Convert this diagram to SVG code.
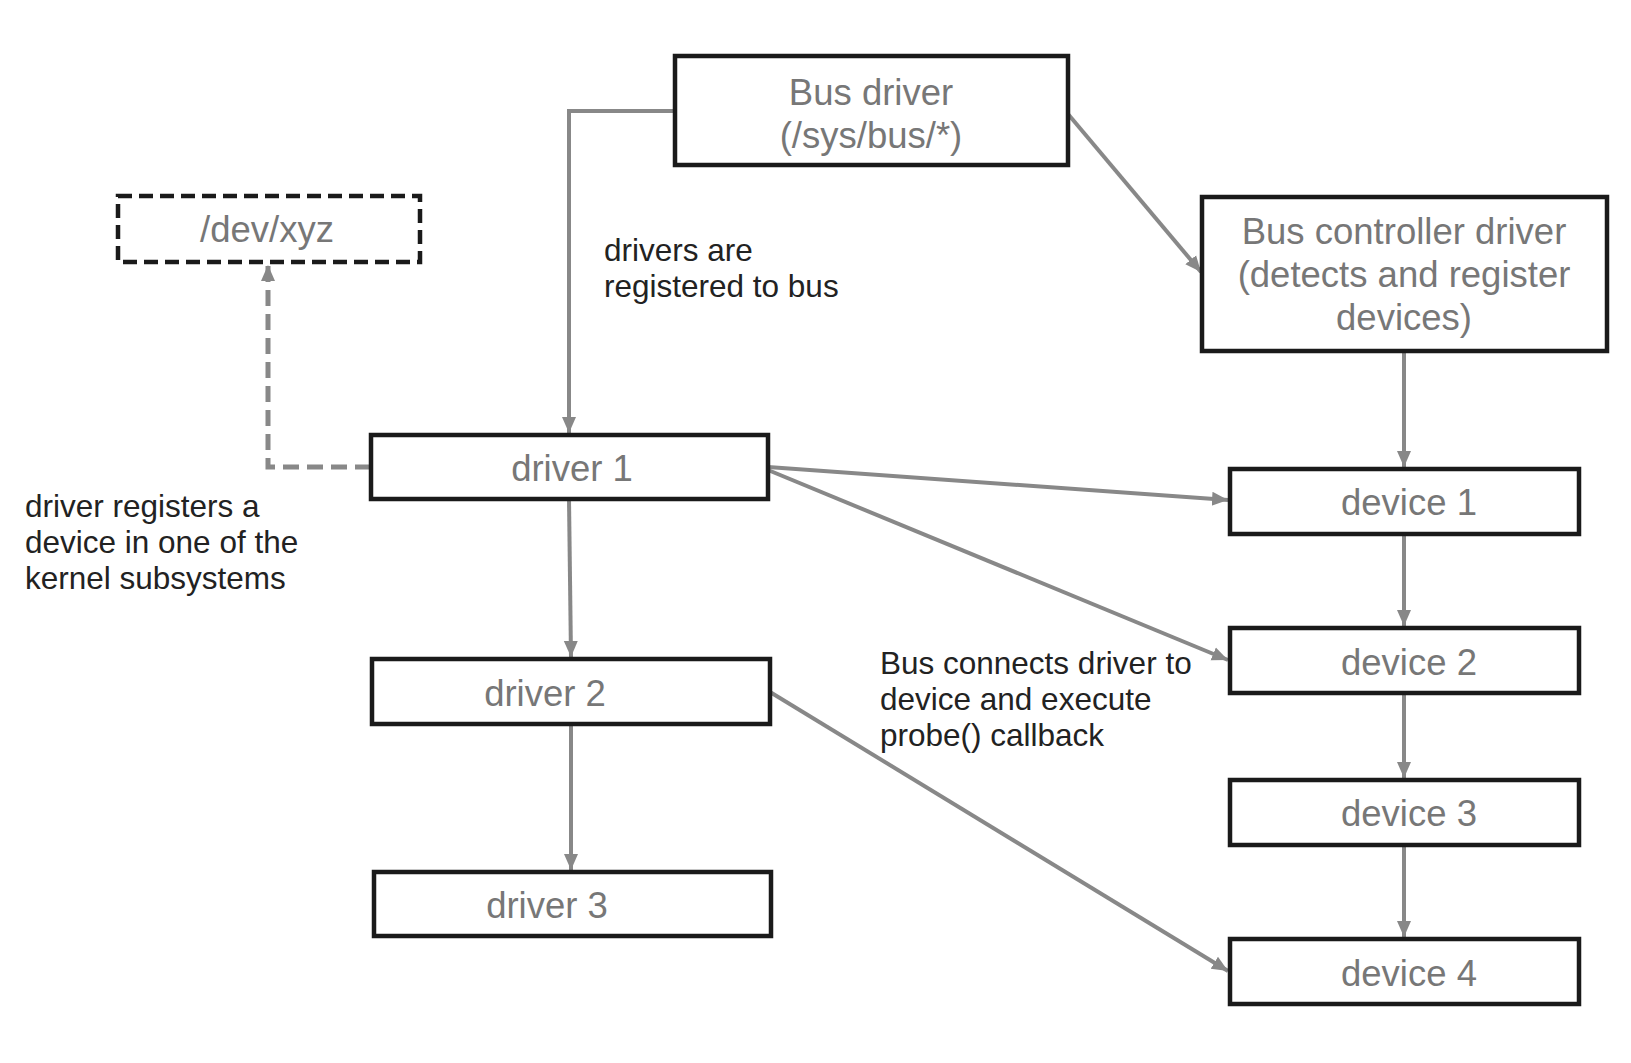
<svg xmlns="http://www.w3.org/2000/svg" width="1631" height="1063" viewBox="0 0 1631 1063">
<defs>
<style>
.box{fill:#fff;stroke:#1a1a1a;stroke-width:4.5}
.dbox{fill:#fff;stroke:#1a1a1a;stroke-width:4.5;stroke-dasharray:14 7}
.lbl{font-family:"Liberation Sans",Arial,sans-serif;font-size:36.5px;fill:#777;text-anchor:middle}
.note{font-family:"Liberation Sans",Arial,sans-serif;font-size:31.5px;fill:#222}
.con{fill:none;stroke:#888;stroke-width:4}
.dash{fill:none;stroke:#888;stroke-width:5;stroke-dasharray:16 8}
</style>
<marker id="arr" markerUnits="userSpaceOnUse" markerWidth="18" markerHeight="16" refX="16" refY="8" orient="auto">
<path d="M0,1 L16,8 L0,15 Z" fill="#888"/>
</marker>
</defs>
<rect width="1631" height="1063" fill="#fff"/>
<g id="connectors">
<path class="con" d="M675,111 H569 V433" marker-end="url(#arr)"/>
<path class="con" d="M1068,114 L1201,272" marker-end="url(#arr)"/>
<path class="con" d="M1404,351 V467" marker-end="url(#arr)"/>
<path class="con" d="M768,467 L1228,500" marker-end="url(#arr)"/>
<path class="con" d="M768,470 L1228,660" marker-end="url(#arr)"/>
<path class="con" d="M569,499 L571,657" marker-end="url(#arr)"/>
<path class="con" d="M571,724 V870" marker-end="url(#arr)"/>
<path class="con" d="M770,692 L1228,971" marker-end="url(#arr)"/>
<path class="con" d="M1404,534 V626" marker-end="url(#arr)"/>
<path class="con" d="M1404,693 V778" marker-end="url(#arr)"/>
<path class="con" d="M1404,845 V937" marker-end="url(#arr)"/>
<path class="dash" d="M371,467 H268 V265" marker-end="url(#arr)"/>
</g>
<g id="bus-driver">
<rect class="box" x="675" y="56" width="393" height="109"/>
<text class="lbl" x="871" y="105">Bus driver</text>
<text class="lbl" x="871" y="148">(/sys/bus/*)</text>
</g>
<g id="dev-xyz">
<rect class="dbox" x="118" y="196" width="302" height="66"/>
<text class="lbl" x="267" y="242">/dev/xyz</text>
</g>
<g id="bus-controller">
<rect class="box" x="1202" y="197" width="405" height="154"/>
<text class="lbl" x="1404" y="244">Bus controller driver</text>
<text class="lbl" x="1404" y="287">(detects and register</text>
<text class="lbl" x="1404" y="330">devices)</text>
</g>
<g id="driver1">
<rect class="box" x="371" y="435" width="397" height="64"/>
<text class="lbl" x="572" y="481">driver 1</text>
</g>
<g id="driver2">
<rect class="box" x="372" y="659" width="398" height="65"/>
<text class="lbl" x="545" y="706">driver 2</text>
</g>
<g id="driver3">
<rect class="box" x="374" y="872" width="397" height="64"/>
<text class="lbl" x="547" y="918">driver 3</text>
</g>
<g id="device1">
<rect class="box" x="1230" y="469" width="349" height="65"/>
<text class="lbl" x="1409" y="515">device 1</text>
</g>
<g id="device2">
<rect class="box" x="1230" y="628" width="349" height="65"/>
<text class="lbl" x="1409" y="675">device 2</text>
</g>
<g id="device3">
<rect class="box" x="1230" y="780" width="349" height="65"/>
<text class="lbl" x="1409" y="826">device 3</text>
</g>
<g id="device4">
<rect class="box" x="1230" y="939" width="349" height="65"/>
<text class="lbl" x="1409" y="986">device 4</text>
</g>
<g id="notes">
<text class="note" x="604" y="261">drivers are</text>
<text class="note" x="604" y="297">registered to bus</text>
<text class="note" x="25" y="517">driver registers a</text>
<text class="note" x="25" y="553">device in one of the</text>
<text class="note" x="25" y="589">kernel subsystems</text>
<text class="note" x="880" y="674">Bus connects driver to</text>
<text class="note" x="880" y="710">device and execute</text>
<text class="note" x="880" y="746">probe() callback</text>
</g>
</svg>
